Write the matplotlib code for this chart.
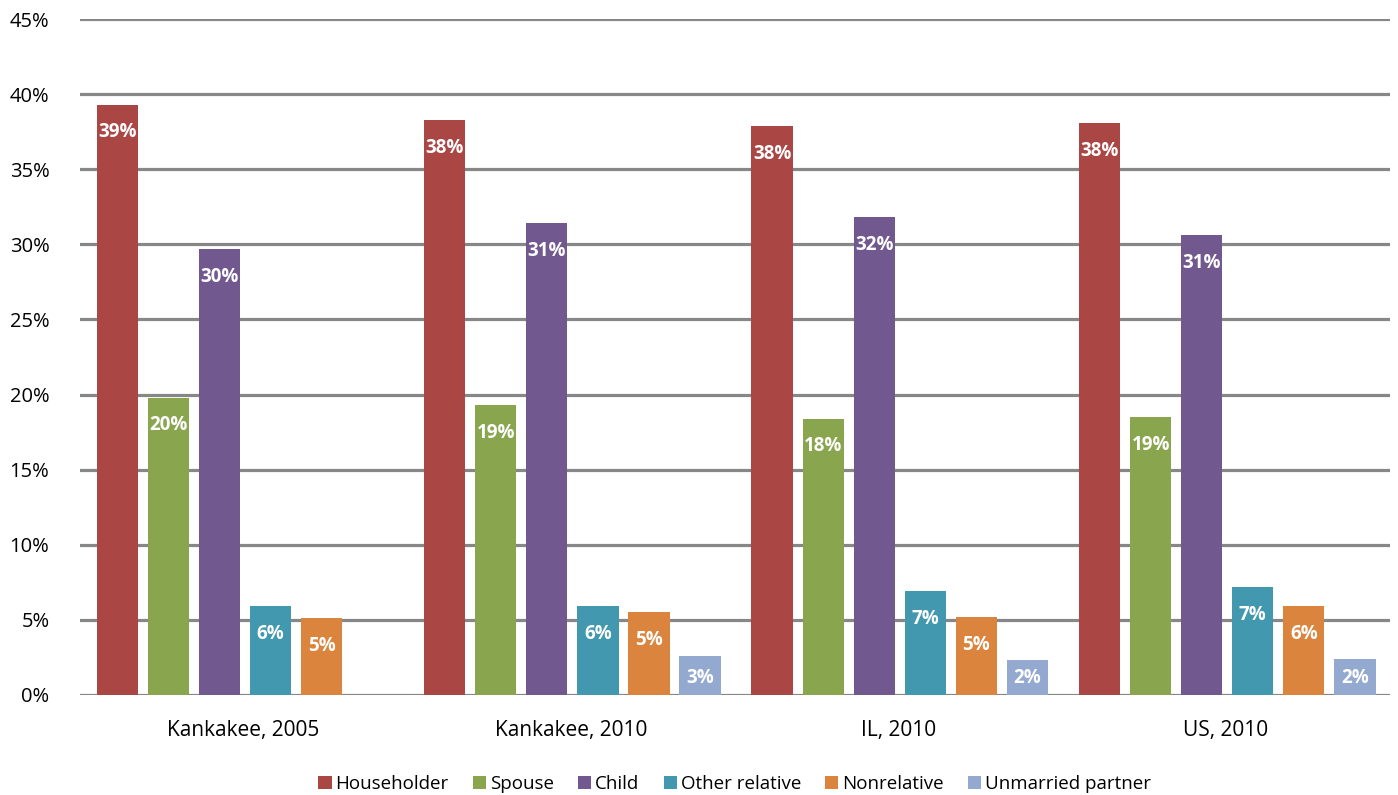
import numpy as np
import matplotlib
matplotlib.use("Agg")
import matplotlib.pyplot as plt

plt.rcParams['font.family'] = ['Open Sans', 'DejaVu Sans']

# data (percent)
groups = ['Kankakee, 2005', 'Kankakee, 2010', 'IL, 2010', 'US, 2010']
series = ['Householder', 'Spouse', 'Child', 'Other relative', 'Nonrelative', 'Unmarried partner']
householder = [39.3, 38.3, 37.9, 38.1]
spouse = [19.8, 19.3, 18.4, 18.5]
child = [29.7, 31.4, 31.8, 30.6]
other_relative = [5.9, 5.9, 6.9, 7.2]
nonrelative = [5.1, 5.5, 5.2, 5.9]
unmarried = [np.nan, 2.6, 2.3, 2.4]
labels = [['39%', '38%', '38%', '38%'],
          ['20%', '19%', '18%', '19%'],
          ['30%', '31%', '32%', '31%'],
          ['6%', '6%', '7%', '7%'],
          ['5%', '5%', '5%', '6%'],
          ['', '3%', '2%', '2%']]
colors = ['#AA4644', '#89A54E', '#71588F', '#4198AF', '#DB843D', '#93A9CF']

values = [householder, spouse, child, other_relative, nonrelative, unmarried]

fig = plt.figure(figsize=(13.98, 7.95), dpi=100)
ax = fig.add_axes([0.0572, 0.1258, 0.9368, 0.8502])

x = np.arange(len(groups))
step = 0.156
width = 0.126
for i, (name, vals) in enumerate(zip(series, values)):
    pos = x + (i - 2.5) * step + 0.004
    vals = np.array(vals, dtype=float)
    ok = ~np.isnan(vals)
    ax.bar(pos[ok], vals[ok], width, color=colors[i], label=name, zorder=3)
    for p, v, t in zip(pos, vals, labels[i]):
        if np.isnan(v):
            continue
        ly = max(v - 1.85, 1.15)
        ax.text(p, ly, t, ha='center', va='center', color='white',
                fontsize=13.5, fontweight='bold', zorder=4)

ax.set_xlim(-0.5, len(groups) - 0.5)
ax.set_ylim(0, 45)
ax.set_yticks(range(0, 50, 5))
ax.set_yticklabels([f'{v}%' for v in range(0, 50, 5)])
ax.set_xticks(x)
ax.set_xticklabels(groups)
ax.tick_params(axis='both', length=0, labelsize=14.5, colors='black')
ax.tick_params(axis='x', pad=18, labelsize=15)
ax.tick_params(axis='y', pad=22)
ax.grid(axis='y', color='#878787', linewidth=2.3, zorder=0)
ax.set_axisbelow(True)
for s in ax.spines.values():
    s.set_visible(False)

ax.legend(loc='upper center', bbox_to_anchor=(0.5, -0.093), ncol=6, frameon=False,
          fontsize=13.5, handlelength=0.7, handleheight=0.7, handletextpad=0.2,
          columnspacing=1.3)

fig.savefig('out.png', dpi=100)
